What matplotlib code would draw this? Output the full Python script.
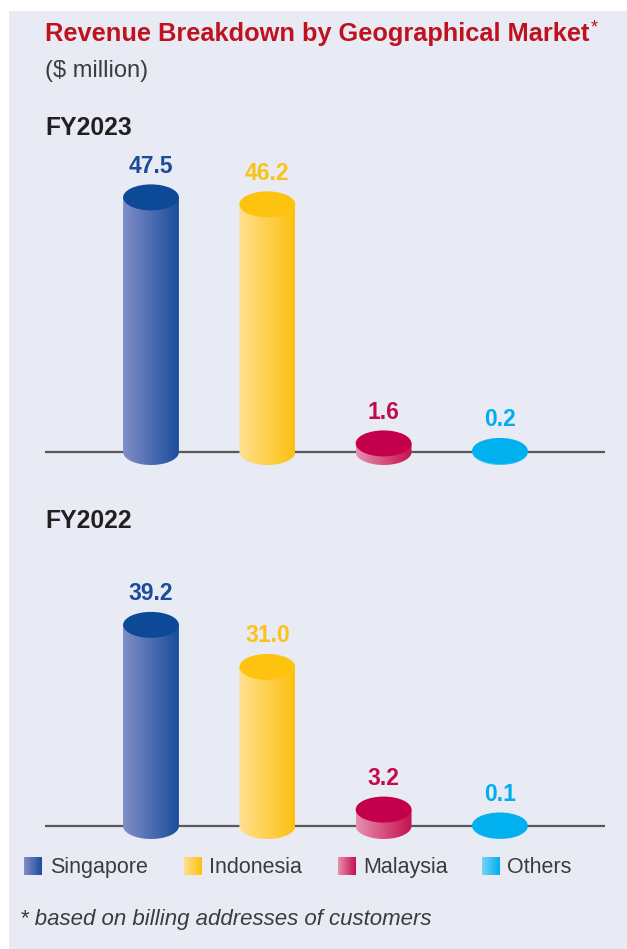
import numpy as np
import matplotlib
matplotlib.use("Agg")
import matplotlib.pyplot as plt
from matplotlib.patches import Ellipse, Rectangle, PathPatch
from matplotlib.path import Path
from matplotlib.colors import to_rgb

plt.rcParams['font.family'] = ['Liberation Sans', 'DejaVu Sans']

# data ($ million)
markets = ['Singapore', 'Indonesia', 'Malaysia', 'Others']
fy2023 = [47.5, 46.2, 1.6, 0.2]
fy2022 = [39.2, 31.0, 3.2, 0.1]

top_colors = ['#0c4a98', '#fec30f', '#c4004c', '#00b0ef']
left_colors = ['#818ec7', '#ffe08f', '#e68fae', '#78d4f6']
right_colors = ['#1a4d9c', '#fdc010', '#c5114e', '#00aeef']
label_colors = ['#1b4b9a', '#fbc21a', '#c40a4f', '#00aeef']

W, H = 627, 949
fig = plt.figure(figsize=(W / 100, H / 100), dpi=100)
fig.patch.set_facecolor('white')
fig.patches.append(Rectangle((9 / W, 0), 1, 1 - 11 / H, transform=fig.transFigure,
                             facecolor='#e8eaf4', edgecolor='none', zorder=-10))


def gradient(c1, c2, n=64):
    a = np.array(to_rgb(c1))
    b = np.array(to_rgb(c2))
    t = np.linspace(0, 1, n)[:, None]
    return (a * (1 - t) + b * t)[None, :, :]


def px_axes(left, top, right, bottom):
    return fig.add_axes([left / W, 1 - bottom / H, (right - left) / W, (bottom - top) / H])


bar_w = 0.48     # cylinder width in category units
step = 116.3     # px between categories
semi_px = 13     # half height of the ellipses in px


def draw_panel(ax, values, base_px, top_px, bottom_px, scale):
    xlim = ((45 - 151) / step, (605 - 151) / step)
    ylim = (-(bottom_px - base_px) / scale, (base_px - top_px) / scale)
    ax.axis('off')
    ax.axhline(0, color='#58585a', lw=1.6, zorder=1)
    semi = semi_px / scale
    for i, v in enumerate(values):
        x0, x1 = i - bar_w / 2, i + bar_w / 2
        th = np.linspace(np.pi, 2 * np.pi, 60)
        arc = np.column_stack([i + bar_w / 2 * np.cos(th), semi * np.sin(th)])
        verts = np.vstack([[x0, v], arc, [x1, v], [x0, v]])
        body = PathPatch(Path(verts), facecolor='none', edgecolor='none')
        ax.add_patch(body)
        im = ax.imshow(gradient(left_colors[i], right_colors[i]),
                       extent=[x0, x1, -semi, v], aspect='auto', zorder=2,
                       interpolation='bilinear')
        im.set_clip_path(body)
        ax.add_patch(Ellipse((i, v), bar_w, 2 * semi, facecolor=top_colors[i],
                             edgecolor='none', zorder=3))
        ax.annotate(f'{v:.1f}', (i, v), xytext=(0, 22.5), textcoords='offset points',
                    ha='center', va='center', fontsize=16.5, fontweight='bold',
                    color=label_colors[i], annotation_clip=False)
    ax.set_xlim(*xlim)
    ax.set_ylim(*ylim)


ax1 = px_axes(45, 140, 605, 480)
draw_panel(ax1, fy2023, 452, 140, 480, 5.36)
ax2 = px_axes(45, 540, 605, 850)
draw_panel(ax2, fy2022, 826, 540, 850, 5.13)

# titles
title = fig.text(45 / W, 1 - 41 / H, 'Revenue Breakdown by Geographical Market',
                 fontsize=18.3, fontweight='bold', color='#c0111f', va='baseline')
fig.text(45 / W, 1 - 77 / H, '($ million)', fontsize=17, color='#3c3c3e', va='baseline')
fig.text(45 / W, 1 - 135 / H, 'FY2023', fontsize=17.8, fontweight='bold', color='#231f20', va='baseline')
fig.text(45 / W, 1 - 528 / H, 'FY2022', fontsize=17.8, fontweight='bold', color='#231f20', va='baseline')

fig.canvas.draw()
bb = title.get_window_extent()
fig.text(bb.x1 / W + 1 / W, 1 - 32 / H, '*', fontsize=13, color='#c0111f', va='baseline')

# legend
lax = px_axes(0, 850, W, 885)
lax.set_xlim(0, W)
lax.set_ylim(885, 850)
lax.axis('off')
sq_x = [24, 184, 338, 482]
txt_x = [50, 209, 363, 507]
for i, name in enumerate(markets):
    lax.imshow(gradient(left_colors[i], right_colors[i]),
               extent=[sq_x[i], sq_x[i] + 18, 875, 857], aspect='auto',
               interpolation='bilinear')
    lax.text(txt_x[i], 873, name, fontsize=15.5, color='#3c3c3e', va='baseline')
lax.set_xlim(0, W)
lax.set_ylim(885, 850)

fig.text(20 / W, 1 - 925 / H, '* based on billing addresses of customers',
         fontsize=16, fontstyle='italic', color='#3c3c3e', va='baseline')

fig.savefig('out.png', dpi=100)
